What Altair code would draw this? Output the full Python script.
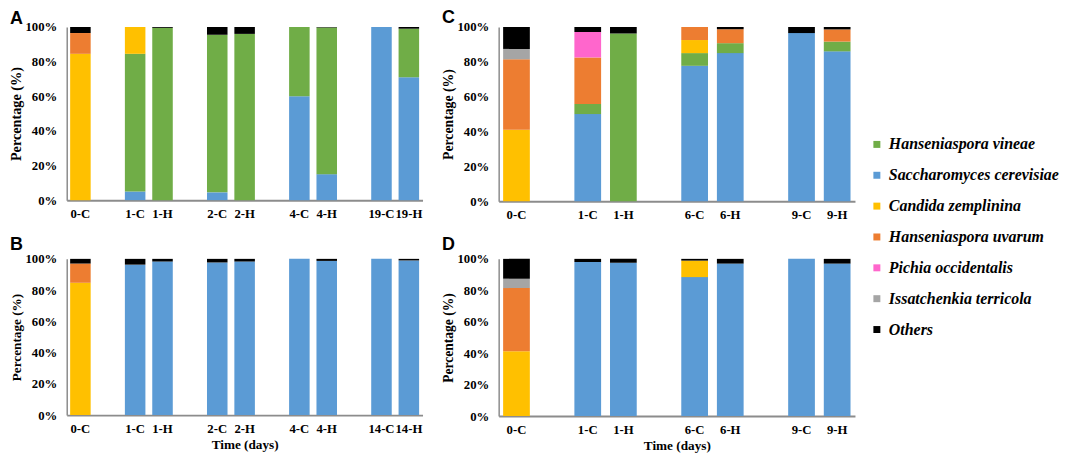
import altair as alt
import pandas as pd

# ---------------- data ----------------
species = ["Saccharomyces cerevisiae", "Hanseniaspora vineae", "Candida zemplinina",
           "Hanseniaspora uvarum", "Pichia occidentalis", "Issatchenkia terricola", "Others"]
legend_order = ["Hanseniaspora vineae", "Saccharomyces cerevisiae", "Candida zemplinina",
                "Hanseniaspora uvarum", "Pichia occidentalis", "Issatchenkia terricola", "Others"]
legend_colors = ["#70AD47", "#5B9BD5", "#FFC000", "#ED7D31", "#FF66CC", "#A5A5A5", "#000000"]

# Panel A
groups_A = [["0-C"], ["1-C", "1-H"], ["2-C", "2-H"], ["4-C", "4-H"], ["19-C", "19-H"]]
A_sc = [0, 5, 0, 4.5, 0, 60, 15, 100, 71]
A_hv = [0, 79.5, 99.5, 91, 96, 40, 84.7, 0, 28]
A_cz = [84.5, 15.5, 0, 0, 0, 0, 0, 0, 0]
A_hu = [12, 0, 0, 0, 0, 0, 0, 0, 0]
A_po = [0, 0, 0, 0, 0, 0, 0, 0, 0]
A_it = [0, 0, 0, 0, 0, 0, 0, 0, 0]
A_ot = [3.5, 0, 0.5, 4.5, 4, 0, 0.3, 0, 1]

# Panel B
groups_B = [["0-C"], ["1-C", "1-H"], ["2-C", "2-H"], ["4-C", "4-H"], ["14-C", "14-H"]]
B_sc = [0, 96.3, 98.3, 97.7, 98.3, 100, 98.7, 100, 99]
B_hv = [0, 0, 0, 0, 0, 0, 0, 0, 0]
B_cz = [84.7, 0, 0, 0, 0, 0, 0, 0, 0]
B_hu = [12.3, 0, 0, 0, 0, 0, 0, 0, 0]
B_po = [0, 0, 0, 0, 0, 0, 0, 0, 0]
B_it = [0, 0, 0, 0, 0, 0, 0, 0, 0]
B_ot = [3, 3.7, 1.7, 2.3, 1.7, 0, 1.3, 0, 1]

# Panel C
groups_C = [["0-C"], ["1-C", "1-H"], ["6-C", "6-H"], ["9-C", "9-H"]]
C_sc = [0, 50, 0, 77.7, 85, 96.5, 86]
C_hv = [0, 5.8, 96.2, 7.3, 5.7, 0, 5.6]
C_cz = [41, 0, 0, 7.5, 0, 0, 0]
C_hu = [40.4, 26.7, 0, 7.5, 8, 0, 7]
C_po = [0, 14.6, 0, 0, 0, 0, 0]
C_it = [6, 0, 0, 0, 0, 0, 0]
C_ot = [12.6, 2.9, 3.8, 0, 1.3, 3.5, 1.4]

# Panel D
groups_D = [["0-C"], ["1-C", "1-H"], ["6-C", "6-H"], ["9-C", "9-H"]]
D_sc = [0, 98, 97.6, 88.4, 97, 100, 97]
D_hv = [0, 0, 0, 0, 0, 0, 0]
D_cz = [41.2, 0, 0, 10.5, 0, 0, 0]
D_hu = [40.2, 0, 0, 0, 0, 0, 0]
D_po = [0, 0, 0, 0, 0, 0, 0]
D_it = [6, 0, 0, 0, 0, 0, 0]
D_ot = [12.6, 2, 2.4, 1.1, 3, 0, 3]

y_ticks = [0, 20, 40, 60, 80, 100]

SERIF = "Liberation Serif"
SANS = "Liberation Sans"
AXIS_GRAY = "#8c8c8c"


def build_df(groups, series):
    samples = [s for g in groups for s in g]
    rows = []
    for k, (sp, vals) in enumerate(zip(species, series)):
        for s, v in zip(samples, vals):
            if v > 0:
                rows.append({"sample": s, "species": sp, "value": v, "stack": k})
    return pd.DataFrame(rows)


def slots_of(groups):
    out = []
    for i, g in enumerate(groups):
        if i > 0:
            out.append("gap%d" % i)
        out.extend(g)
    return out


def panel(letter, groups, series, w, h, xtitle, ytitle_size, letter_dy):
    df = build_df(groups, series)
    slots = slots_of(groups)
    x_axis = alt.Axis(
        labelExpr="indexof(datum.label, 'gap') == 0 ? '' : datum.label",
        labelAngle=0, ticks=False, tickSize=0, labelPadding=7,
        domainColor=AXIS_GRAY, domainWidth=2, titlePadding=3,
        title=xtitle if xtitle else None,
    )
    bars = alt.Chart(df).mark_bar().encode(
        x=alt.X("sample:N",
                scale=alt.Scale(domain=slots, paddingInner=0.25, paddingOuter=0.125),
                axis=x_axis),
        y=alt.Y("value:Q", stack="zero",
                scale=alt.Scale(domain=[0, 100], nice=False),
                axis=alt.Axis(values=y_ticks, labelExpr="datum.value + '%'",
                              title="Percentage (%)", titleFontSize=ytitle_size,
                              grid=False, ticks=False,
                              tickSize=0, labelPadding=10, titlePadding=1,
                              domainColor=AXIS_GRAY, domainWidth=1.5)),
        color=alt.Color("species:N",
                        scale=alt.Scale(domain=legend_order, range=legend_colors),
                        legend=alt.Legend(title=None, orient="none",
                                          legendX=806, legendY=110,
                                          symbolType="square", symbolSize=49,
                                          symbolStrokeWidth=0, rowPadding=15,
                                          labelOffset=4, labelLimit=400,
                                          labelFont=SERIF, labelFontSize=16,
                                          labelFontStyle="italic",
                                          labelFontWeight="bold",
                                          labelColor="black")),
        order=alt.Order("stack:Q", sort="ascending"),
    )
    tag = alt.Chart(pd.DataFrame({"letter": [letter]})).mark_text(
        font=SANS, fontSize=18, fontWeight="bold", color="black",
        align="left", baseline="alphabetic",
    ).encode(text="letter:N", x=alt.value(-57), y=alt.value(letter_dy))
    return alt.layer(bars, tag).properties(width=w, height=h)


pA = panel("A", groups_A, [A_sc, A_hv, A_cz, A_hu, A_po, A_it, A_ot], 357.5, 174, None, 14.3, -3.3)
pB = panel("B", groups_B, [B_sc, B_hv, B_cz, B_hu, B_po, B_it, B_ot], 357.5, 157, "Time (days)", 13.3, -9)
pC = panel("C", groups_C, [C_sc, C_hv, C_cz, C_hu, C_po, C_it, C_ot], 358, 175, None, 13.8, -4)
pD = panel("D", groups_D, [D_sc, D_hv, D_cz, D_hu, D_po, D_it, D_ot], 358, 158, "Time (days)", 13.6, -9)

chart = alt.concat(pA, pC, pB, pD, columns=2).properties(
    padding={"left": 2, "top": 0, "right": 0, "bottom": 0},
    background="white", align="each",
    spacing={"row": 15, "column": 19},
).configure_view(stroke=None).configure_axis(
    labelFont=SERIF, labelFontSize=12.8, labelFontWeight="bold", labelColor="black",
    titleFont=SERIF, titleFontSize=13.3, titleFontWeight="bold", titleColor="black",
)

chart.save("out.html", embed_options={"renderer": "svg", "actions": False})
